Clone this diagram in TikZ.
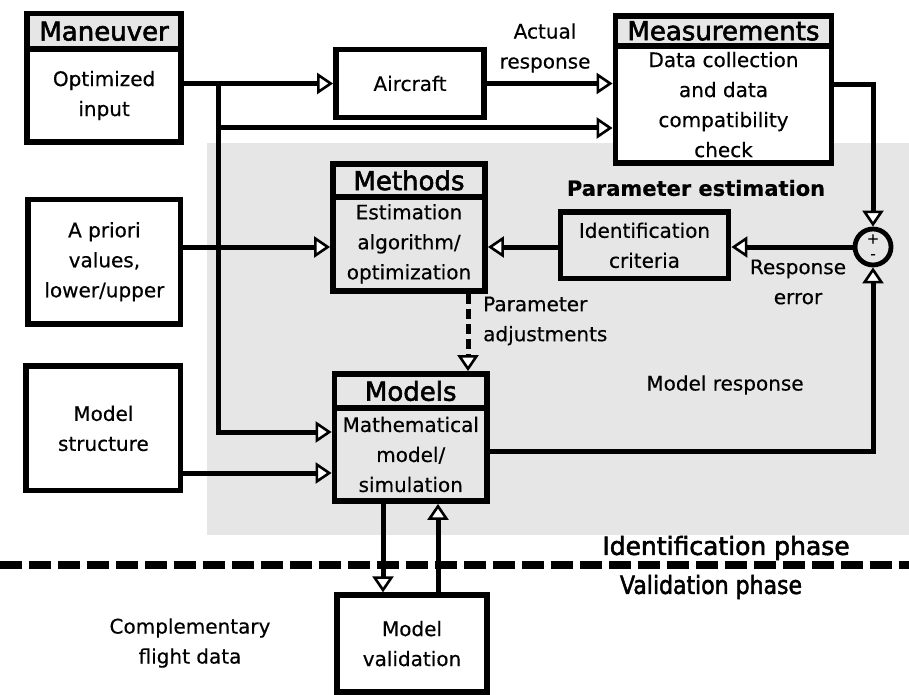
\documentclass[tikz,border=0pt]{standalone}
\usepackage{fontspec}
\usepackage{graphicx}
\setmainfont{DejaVu Sans}[FakeBold=0.4]
\newfontfamily\headfont[FakeBold=2.2]{DejaVu Sans}
\usetikzlibrary{arrows.meta}
\definecolor{panel}{RGB}{230,230,230}

\tikzset{
  txt/.style={inner sep=0pt, align=center, font=\fontsize{20}{30}\selectfont},
  box/.style={txt, draw, line width=5.8pt},
  head/.style={box, font=\headfont\fontsize{26}{30}\selectfont},
  wire/.style={line width=5pt},
  tip/.style={wire, -{Triangle[length=16pt, width=21pt, line width=2.6pt, fill=white]}},
  phase/.style={inner sep=0pt, font=\headfont\fontsize{25}{30}\selectfont},
  sign/.style={inner sep=0pt, font=\fontsize{15}{15}\selectfont},
}

\begin{document}
\begin{tikzpicture}[x=1pt, y=-1pt]
\useasboundingbox (0,0) rectangle (909,695);

% estimation panel
\fill[panel] (207,143) rectangle (909,535);

% identification / validation boundary
\coordinate (phL) at (0,565);
\coordinate (phR) at (909,565);
\draw[line width=7.5pt, dash pattern=on 22pt off 7pt] (phL) -- (phR);

% blocks
\node[head, fill=panel, minimum width=153.8, minimum height=35.5] (manH) at (104.1,31.25) {Maneuver};
\node[box, fill=white, minimum width=153.8, minimum height=93] (manB) at (104.1,95.5) {Optimized\\input};

\node[box, fill=white, minimum width=148, minimum height=68] (air) at (410,83.5) {Aircraft};

\node[head, fill=panel, minimum width=216, minimum height=30.5] (measH) at (723.5,30.9) {Measurements};
\node[box, fill=white, minimum width=216, minimum height=116.8] (measB) at (723.5,104.6) {Data collection\\and data\\compatibility\\check};

\node[head, minimum width=152, minimum height=32.7] (methH) at (409,180.35) {Methods};
\node[box, minimum width=152, minimum height=94.3] (methB) at (409,243.85) {Estimation\\algorithm/\\optimization};

\node[box, fill=white, minimum width=152.2, minimum height=124.5] (apr) at (104.4,261.75) {A priori\\values,\\lower/upper};

\node[box, minimum width=168, minimum height=66.3] (idc) at (644.5,245.35) {Identification\\criteria};

\node[circle, draw, line width=4.8pt, minimum size=36, inner sep=0pt] (sum) at (873,247) {};
\node[sign] (plus) at (873,239) {+};
\node[sign] (minus) at (873,256.5) {-};

\node[head, minimum width=152.5, minimum height=34] (modH) at (410.75,391) {Models};
\node[box, minimum width=152.5, minimum height=93] (modB) at (410.75,454.5) {Mathematical\\model/\\simulation};

\node[box, fill=white, minimum width=154.2, minimum height=124.2] (mst) at (103.4,428.4) {Model\\structure};

\node[box, fill=white, minimum width=149.5, minimum height=96.7] (val) at (412,643.6) {Model\\validation};

% free labels
\node[txt] (act) at (545,48) {Actual\\response};
\node[inner sep=0pt, font=\bfseries\fontsize{21}{25}\selectfont] (pest) at (696,188) {Parameter estimation};
\node[txt] (rerr) at (798,282) {Response\\error};
\node[txt, align=left, anchor=west] (padj) at (483,321) {Parameter\\adjustments};
\node[txt] (mresp) at (725,385) {Model response};
\node[phase] (idph) at (726,548) {Identification phase};
\node[phase] (vaph) at (711,587) {\scalebox{0.88}[1]{Validation phase}};
\node[txt] (cfd) at (190,643) {Complementary\\flight data};

% signal paths
\coordinate (br) at (218,83.5);
\coordinate (brM) at (218,128);
\coordinate (brL) at (218,432);
\draw[tip] (manB.east |- br) -- (air.west);
\draw[tip] (air.east) -- (air.east -| measB.west);
\draw[tip] (br) |- (measB.west |- brM);
\draw[tip] (br) |- (modB.west |- brL);
\draw[tip] (apr.east |- 0,247) -- (methB.west |- 0,247);
\draw[tip] (sum.west) -- (sum.west -| idc.east);
\draw[tip] (idc.west |- sum) -- (methB.east |- sum);
\draw[tip] (measB.east |- 0,85) -| (sum.north);
\draw[tip] (modB.east |- 0,451) -| (sum.south);
\draw[tip, dash pattern=on 10pt off 5pt] (methB.south -| 468,0) -- (modH.north -| 468,0);
\draw[tip] (mst.east |- 0,473) -- (modB.west |- 0,473);
\draw[tip] (modB.south -| 383,0) -- (val.north -| 383,0);
\draw[tip] (val.north -| 438,0) -- (modB.south -| 438,0);
\end{tikzpicture}
\end{document}
